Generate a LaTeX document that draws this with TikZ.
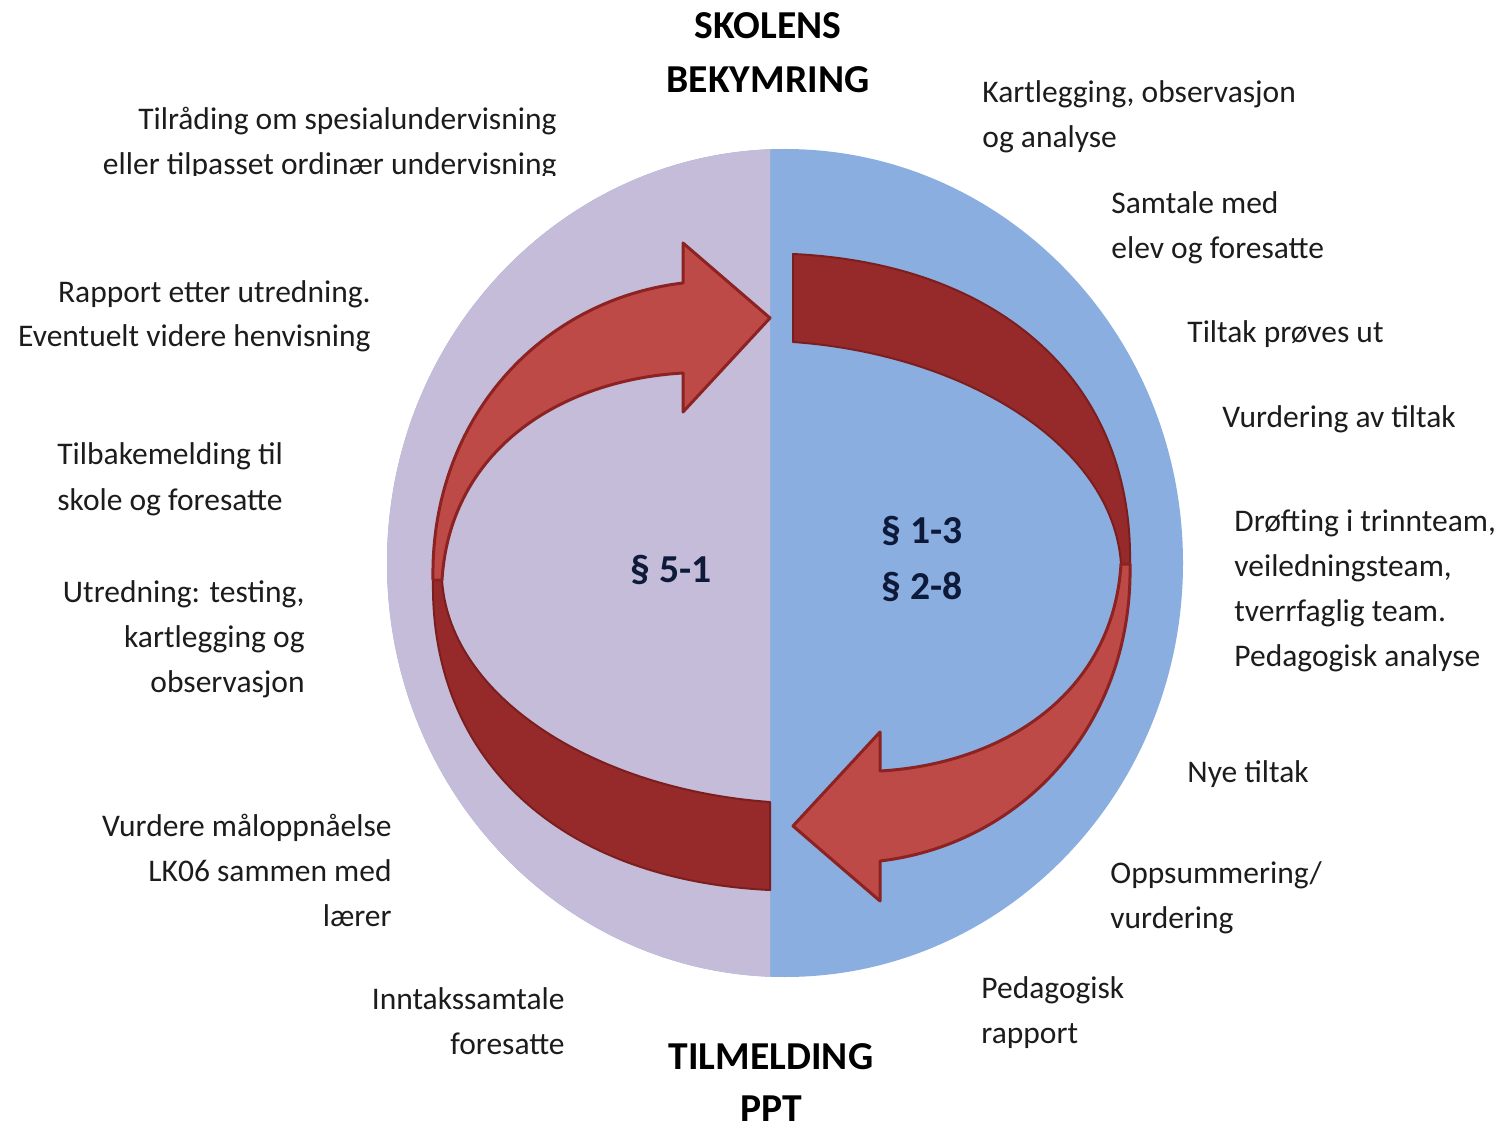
\documentclass[tikz,border=0pt]{standalone}
\usepackage{fontspec}
\setmainfont{Carlito}
\definecolor{lav}{RGB}{196,188,216}
\definecolor{bluec}{RGB}{139,174,224}
\definecolor{darkband}{RGB}{150,42,42}
\definecolor{darkedge}{RGB}{125,30,30}
\definecolor{lightred}{RGB}{190,74,71}
\definecolor{lightedge}{RGB}{140,34,34}
\definecolor{txt}{RGB}{28,28,28}
\definecolor{navy}{RGB}{14,26,58}
\tikzset{
  lbl/.style={font=\fontsize{15.75}{18}\selectfont, text=txt, inner sep=0pt},
  ttl/.style={font=\fontsize{19.8}{22}\selectfont\bfseries, text=black, inner sep=0pt},
  para/.style={font=\fontsize{19.8}{22}\selectfont\bfseries, text=navy, inner sep=0pt},
  backband/.style={fill=darkband, draw=darkedge, line width=1pt, line join=round},
  frontarrow/.style={fill=lightred, draw=lightedge, line width=1.5pt, line join=round},
}
\newcommand{\backbandpath}{(433,580) .. controls (430,760) and (560,880) .. (770,890)
  -- (770,802) .. controls (600,790) and (450,700) .. (442,580) -- cycle}
\newcommand{\frontarrowpath}{(433,580) .. controls (430,420) and (540,300) .. (683,283)
  -- (683,243) -- (770,318) -- (683,412) -- (683,373)
  .. controls (560,380) and (450,450) .. (442,580) -- cycle}
\begin{document}
\begin{tikzpicture}[x=0.5pt,y=-0.5pt]
\useasboundingbox (0,0) rectangle (1504,1128);
\fill[white] (0,0) rectangle (1504,1128);
% background circle
\fill[bluec] (785,563) ellipse [x radius=199pt, y radius=207pt];
\begin{scope}
  \clip (0,0) rectangle (770,1128);
  \fill[lav] (785,563) ellipse [x radius=199pt, y radius=207pt];
\end{scope}
% back bands (dark)
\path[backband] \backbandpath;
\begin{scope}[rotate around={180:(781.5,572)}]
  \path[backband] \backbandpath;
\end{scope}
% front arrows (light)
\path[frontarrow] \frontarrowpath;
\begin{scope}[rotate around={180:(781.5,572)}]
  \path[frontarrow] \frontarrowpath;
\end{scope}
% titles
\node[ttl, anchor=base] (t1) at (768,39) {SKOLENS};
\node[ttl, anchor=base] (t2) at (768,93) {BEKYMRING};
\node[ttl, anchor=base] (t3) at (771,1069) {TILMELDING};
\node[ttl, anchor=base] (t4) at (771,1121) {PPT};
% paragraph labels
\node[para, anchor=base] (p1) at (671,582) {§ 5-1};
\node[para, anchor=base] (p2) at (922,543) {§ 1-3};
\node[para, anchor=base] (p3) at (922,599) {§ 2-8};
% left texts
\node[lbl, anchor=base east] (a1) at (557,130) {Tilråding om spesialundervisning};
\begin{scope}
  \clip (0,150) rectangle (640,176);
  \node[lbl, anchor=base east] (a2) at (557,175) {eller tilpasset ordinær undervisning};
\end{scope}
\node[lbl, anchor=base east] (b1) at (371,303) {Rapport etter utredning.};
\node[lbl, anchor=base east] (b2) at (371,347) {Eventuelt videre henvisning};
\node[lbl, anchor=base west] (c1) at (57,465) {Tilbakemelding til};
\node[lbl, anchor=base west] (c2) at (57,510) {skole og foresatte};
\node[lbl, anchor=base east] (d1) at (305,602) {Utredning: testing,};
\node[lbl, anchor=base east] (d2) at (305,647) {kartlegging og};
\node[lbl, anchor=base east] (d3) at (305,692) {observasjon};
\node[lbl, anchor=base east] (e1) at (392,836) {Vurdere måloppnåelse};
\node[lbl, anchor=base east] (e2) at (392,881) {LK06 sammen med};
\node[lbl, anchor=base east] (e3) at (392,926) {lærer};
\node[lbl, anchor=base east] (f1) at (565,1009) {Inntakssamtale};
\node[lbl, anchor=base east] (f2) at (565,1054) {foresatte};
% right texts
\node[lbl, anchor=base west] (g1) at (982,103) {Kartlegging, observasjon};
\node[lbl, anchor=base west] (g2) at (982,148) {og analyse};
\node[lbl, anchor=base west] (h1) at (1111,214) {Samtale med};
\node[lbl, anchor=base west] (h2) at (1111,259) {elev og foresatte};
\node[lbl, anchor=base west] (i1) at (1187,343) {Tiltak prøves ut};
\node[lbl, anchor=base west] (j1) at (1222,428) {Vurdering av tiltak};
\node[lbl, anchor=base west] (k1) at (1234,531) {Drøfting i trinnteam,};
\node[lbl, anchor=base west] (k2) at (1234,576) {veiledningsteam,};
\node[lbl, anchor=base west] (k3) at (1234,621) {tverrfaglig team.};
\node[lbl, anchor=base west] (k4) at (1234,666) {Pedagogisk analyse};
\node[lbl, anchor=base west] (l1) at (1187,782) {Nye tiltak};
\node[lbl, anchor=base west] (m1) at (1110,883) {Oppsummering/};
\node[lbl, anchor=base west] (m2) at (1110,928) {vurdering};
\node[lbl, anchor=base west] (n1) at (981,998) {Pedagogisk};
\node[lbl, anchor=base west] (n2) at (981,1043) {rapport};
\end{tikzpicture}
\end{document}
